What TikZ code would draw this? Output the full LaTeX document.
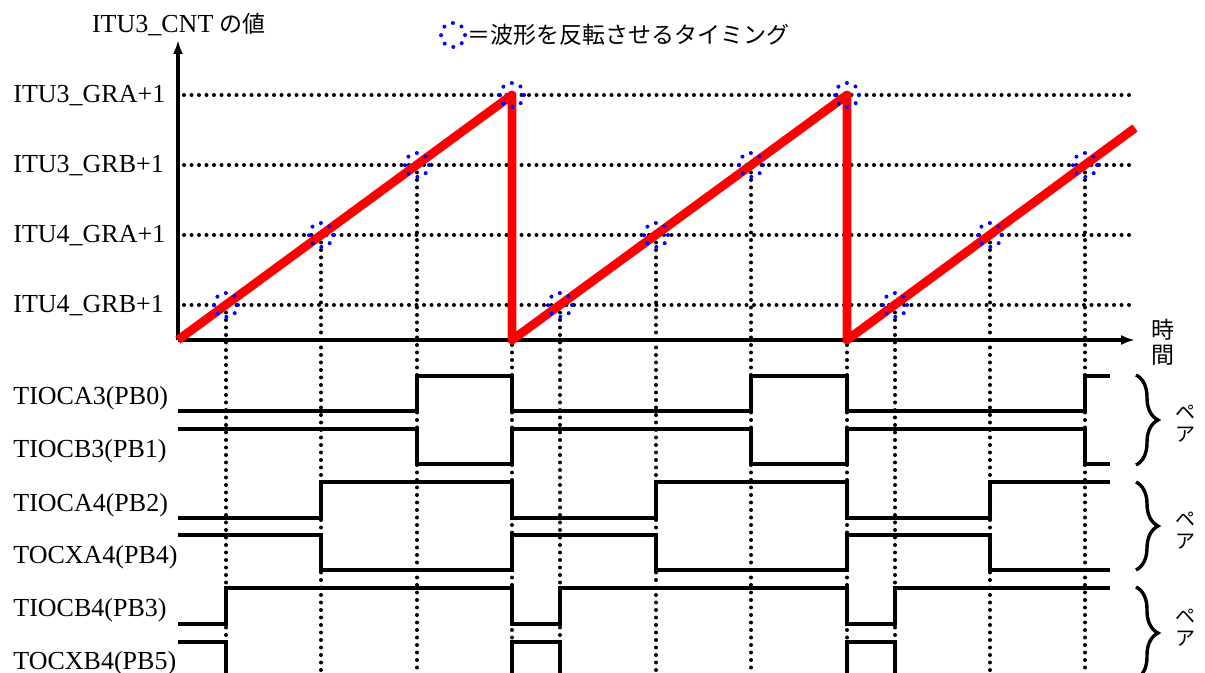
\documentclass[tikz,border=0pt]{standalone}
\usepackage{fontspec}
\setmainfont{Liberation Serif}
\newfontfamily\jpfont{Noto Sans CJK JP}
\usetikzlibrary{arrows.meta,positioning,decorations.pathreplacing}

\tikzset{
  lbl/.style={font=\fontsize{13pt}{15pt}\selectfont, inner sep=0pt, anchor=base west},
  jp/.style={font=\jpfont\fontsize{11.5pt}{12.5pt}\selectfont, inner sep=0pt, align=center},
  jpsmall/.style={font=\jpfont\fontsize{10pt}{11pt}\selectfont, inner sep=0pt, align=center},
  griddot/.style={line width=2pt, line cap=round, dash pattern=on 0pt off 3.75pt},
  flip/.style={shape=circle, draw=blue, line width=2pt, line cap=round, dash pattern=on 0pt off 4.71pt, minimum size=12pt, inner sep=0pt},
  wave/.style={line width=1.6pt},
  ramp/.style={red, line width=4.4pt, line join=round},
  axis/.style={line width=1.6pt, -{Latex[length=7pt,width=5pt]}},
  pairbrace/.style={decorate, decoration={brace, amplitude=11pt}, line width=1.7pt}
}

\begin{document}
\begin{tikzpicture}[x=0.5pt,y=-0.5pt]
\useasboundingbox (0,0) rectangle (1205,673);
\clip (0,0) rectangle (1205,673);

% labels
\node[lbl,anchor=base] (cnt) at (179,33) {ITU3\_CNT {\jpfont\fontsize{11.5pt}{12.5pt}\selectfont の値}};
\node[flip] (key) at (453,35) {};
\node[jp,right=0pt of key] (keytext) {＝波形を反転させるタイミング};
\node[lbl] (gra3) at (13,103) {ITU3\_GRA+1};
\node[lbl] (grb3) at (13,173) {ITU3\_GRB+1};
\node[lbl] (gra4) at (13,243) {ITU4\_GRA+1};
\node[lbl] (grb4) at (13,313) {ITU4\_GRB+1};
\node[jp] (time) at (1163,342) {時\\間};

% grid
\draw[griddot] (184,95) -- (1130,95) (184,165) -- (1130,165) (184,235) -- (1130,235) (184,305) -- (1130,305);
\draw[griddot] (226,305) -- (226,673) (321,235) -- (321,673) (417,165) -- (417,673) (512,345) -- (512,673);
\draw[griddot] (560,305) -- (560,673) (656,235) -- (656,673) (751,165) -- (751,673) (847,345) -- (847,673);
\draw[griddot] (895,305) -- (895,673) (990,235) -- (990,673) (1085,165) -- (1085,673);

% axes and counter
\draw[axis] (178,340) -- (178,40);
\draw[axis] (178,340) -- (1135,340);
\draw[ramp] (178,340) -- (512,95) -- (512,340) -- (847,95) -- (847,340) -- (1135,128);

\node[flip] (t1) at (226,305) {};
\node[flip] (t2) at (321,235) {};
\node[flip] (t3) at (417,165) {};
\node[flip] (t4) at (512,95) {};
\node[flip] (t5) at (560,305) {};
\node[flip] (t6) at (656,235) {};
\node[flip] (t7) at (751,165) {};
\node[flip] (t8) at (847,95) {};
\node[flip] (t9) at (895,305) {};
\node[flip] (t10) at (990,235) {};
\node[flip] (t11) at (1085,165) {};

% outputs
\node[lbl] (tioca3) at (13,405) {TIOCA3(PB0)};
\node[lbl] (tiocb3) at (13,458) {TIOCB3(PB1)};
\node[lbl] (tioca4) at (13,511) {TIOCA4(PB2)};
\node[lbl] (tocxa4) at (13,563) {TOCXA4(PB4)};
\node[lbl] (tiocb4) at (13,616) {TIOCB4(PB3)};
\node[lbl] (tocxb4) at (13,669) {TOCXB4(PB5)};

\draw[wave] (178,411) -- (417,411) -- (417,376) -- (512,376) -- (512,411) -- (751,411) -- (751,376) -- (847,376) -- (847,411) -- (1085,411) -- (1085,376) -- (1110,376);
\draw[wave] (178,429) -- (417,429) -- (417,464) -- (512,464) -- (512,429) -- (751,429) -- (751,464) -- (847,464) -- (847,429) -- (1085,429) -- (1085,464) -- (1110,464);
\draw[wave] (178,518) -- (321,518) -- (321,482) -- (512,482) -- (512,518) -- (656,518) -- (656,482) -- (847,482) -- (847,518) -- (990,518) -- (990,482) -- (1110,482);
\draw[wave] (178,535) -- (321,535) -- (321,570) -- (512,570) -- (512,535) -- (656,535) -- (656,570) -- (847,570) -- (847,535) -- (990,535) -- (990,570) -- (1110,570);
\draw[wave] (178,624) -- (226,624) -- (226,588) -- (512,588) -- (512,624) -- (560,624) -- (560,588) -- (847,588) -- (847,624) -- (895,624) -- (895,588) -- (1110,588);
\draw[wave] (178,642) -- (226,642) -- (226,680) -- (512,680) -- (512,642) -- (560,642) -- (560,680) -- (847,680) -- (847,642) -- (895,642) -- (895,680) -- (1110,680);

% pairs
\draw[pairbrace] (1136,375) -- (1136,465);
\draw[pairbrace] (1136,482) -- (1136,570);
\draw[pairbrace] (1136,587) -- (1136,679);
\node[jpsmall] (pair1) at (1185,424) {ペ\\ア};
\node[jpsmall] (pair2) at (1185,531) {ペ\\ア};
\node[jpsmall] (pair3) at (1185,628) {ペ\\ア};
\end{tikzpicture}
\end{document}
